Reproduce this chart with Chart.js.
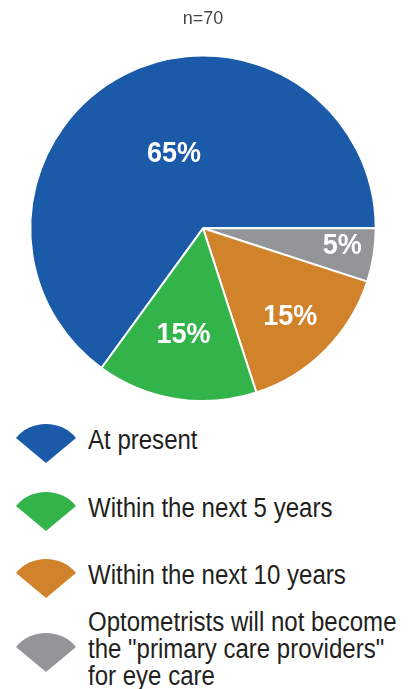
<!DOCTYPE html>
<html>
<head>
<meta charset="utf-8">
<script src="https://cdn.jsdelivr.net/npm/chart.js@4"></script>
<style>
  html, body { margin: 0; padding: 0; background: #fff; }
  body { width: 411px; height: 689px; position: relative; overflow: hidden;
         font-family: "Liberation Sans", Arial, sans-serif; }
  #wrap { position: absolute; left: 0; top: 0; width: 411px; height: 402px; }
  #legend { position: absolute; left: 0; top: 0; width: 411px; }
  .item { position: absolute; left: 0; }
  .item svg { position: absolute; left: 15px; }
  .item .txt { position: absolute; left: 88px; font-size: 27px; line-height: 27px;
               color: #231f20; white-space: nowrap;
               transform: scaleX(0.89); transform-origin: 0 0; }
</style>
</head>
<body>
<div id="wrap"><canvas id="myChart"></canvas></div>
<div id="legend"></div>
<script>
// survey answers, legend order
const answers = [
    'At present',
    'Within the next 5 years',
    'Within the next 10 years',
    'Optometrists will not become the "primary care providers" for eye care'
]
const legendLines = [
    ['At present'],
    ['Within the next 5 years'],
    ['Within the next 10 years'],
    ['Optometrists will not become', 'the "primary care providers"', 'for eye care']
]
const percents = [65, 15, 15, 5]
const sampleSize = 'n=70'

const colors = ['#1a5aa8', '#33b44a', '#d0832a', '#939598']
// slices go clockwise: blue, gray, orange, green
const drawOrder = [0, 3, 2, 1]
// label placement: fraction of radius and small angle nudge (deg)
const labelDist = [0.468, 0.623, 0.715, 0.812]
const labelNudge = [6, 1.4, 0, -2]

const sliceLabels = {
    id: 'sliceLabels',
    afterDatasetsDraw (chart) {
        const ctx = chart.ctx
        const meta = chart.getDatasetMeta(0)
        ctx.save()
        ctx.fillStyle = '#fff'
        ctx.font = 'bold 29px "Liberation Sans", Arial, sans-serif'
        ctx.textAlign = 'center'
        ctx.textBaseline = 'middle'
        meta.data.forEach((arc, i) => {
            const k = drawOrder[i]
            const mid = (arc.startAngle + arc.endAngle) / 2 + labelNudge[k] * Math.PI / 180
            const r = arc.outerRadius * labelDist[k]
            const x = arc.x + Math.cos(mid) * r
            const y = arc.y + Math.sin(mid) * r
            // narrow the text a bit, condensed look
            ctx.save()
            ctx.translate(x, y)
            ctx.scale(0.93, 1)
            ctx.fillText(percents[k] + '%', 0, 1)
            ctx.restore()
        })
        ctx.restore()
    }
}

const ctx = document.getElementById('myChart')
const myChart = new Chart(ctx, {
    type: 'pie',
    data: {
        labels: drawOrder.map(i => answers[i]),
        datasets: [{
            data: drawOrder.map(i => percents[i]),
            backgroundColor: drawOrder.map(i => colors[i]),
            borderColor: '#fff',
            borderWidth: 2
        }]
    },
    options: {
        responsive: true,
        maintainAspectRatio: false,
        animation: false,
        rotation: 216,
        layout: { padding: { left: 29, right: 34, top: 0, bottom: 0 } },
        plugins: {
            legend: { display: false },
            tooltip: { enabled: false },
            title: {
                display: true,
                text: sampleSize,
                color: '#444',
                font: { family: '"Liberation Sans", Arial, sans-serif', size: 18, weight: 'normal' },
                padding: { top: 8, bottom: 25 }
            }
        }
    },
    plugins: [sliceLabels]
})

// legend with wedge icons
const legendTops = [440, 508, 575, 649]
const legend = document.getElementById('legend')
legendLines.forEach((lines, i) => {
    const item = document.createElement('div')
    item.className = 'item'
    item.style.top = legendTops[i] + 'px'
    const svg = '<svg width="62" height="42" viewBox="-31 -41 62 42" style="top:-18px">' +
        '<path d="M0 0 L-30 -25 A39 39 0 0 1 30 -25 Z" fill="' + colors[i] + '"/></svg>'
    const txt = document.createElement('div')
    txt.className = 'txt'
    txt.innerHTML = lines.map(l => l.replace(/"/g, '&quot;')).join('<br>')
    txt.style.top = (-lines.length * 27 / 2) + 'px'
    item.innerHTML = svg
    item.appendChild(txt)
    legend.appendChild(item)
})
</script>
</body>
</html>
